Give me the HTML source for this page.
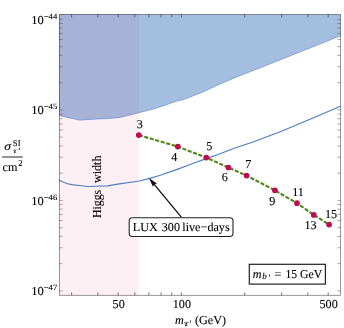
<!DOCTYPE html><html><head><meta charset="utf-8"><style>html,body{margin:0;padding:0;background:#fff;overflow:hidden}svg{display:block;will-change:transform}text{font-family:"Liberation Serif",serif;fill:#000}</style></head><body>
<svg width="344" height="328" viewBox="0 0 344 328">
<rect width="344" height="328" fill="#fff"/>
<rect x="59.4" y="14.4" width="79.6" height="280.9" fill="#FCF0F5"/>
<path d="M59.0,14.4 L59.0,115.4 L79.5,120.1 L96.0,119.0 L107.6,118.6 L119.3,117.5 L127.4,115.5 L136.0,113.4 L138.8,112.7 L153.4,109.0 L165.0,105.3 L176.0,101.2 L183.3,99.6 L201.9,92.4 L220.5,83.8 L240.0,75.6 L250.0,71.8 L292.8,54.8 L340.5,35.7 L340.5,14.4 Z" fill="#A4BEDF"/>
<path d="M59.0,14.4 L59.0,115.4 L79.5,120.1 L96.0,119.0 L107.6,118.6 L119.3,117.5 L127.4,115.5 L136.0,113.4 L138.8,112.7 L139.0,112.6 L139.0,14.4 Z" fill="#A6B3D7"/>
<path d="M59.0,115.4 L79.5,120.1 L96.0,119.0 L107.6,118.6 L119.3,117.5 L127.4,115.5 L136.0,113.4 L138.8,112.7 L153.4,109.0 L165.0,105.3 L176.0,101.2 L183.3,99.6 L201.9,92.4 L220.5,83.8 L240.0,75.6 L250.0,71.8 L292.8,54.8 L340.5,35.7" fill="none" stroke="#7296CE" stroke-width="0.8"/>
<path d="M58.9,180.0 L63.0,182.0 L67.6,183.7 L72.0,184.6 L79.3,185.5 L87.4,186.5 L96.0,186.2 L107.6,185.9 L119.3,183.9 L136.0,181.5 L139.3,181.0 L149.8,178.4 L160.2,175.3 L176.5,169.6 L192.8,163.5 L206.2,158.6 L217.4,154.8 L234.9,148.0 L252.3,142.2 L282.1,131.0 L310.0,119.3 L340.5,106.2" fill="none" stroke="#4C7DC6" stroke-width="1.15" stroke-linejoin="round"/>
<path d="M59.4,19.40h3.3 M340.5,19.40h-3.3 M59.4,109.90h3.3 M340.5,109.90h-3.3 M59.4,82.66h3.3 M340.5,82.66h-3.3 M59.4,66.72h3.3 M340.5,66.72h-3.3 M59.4,55.41h3.3 M340.5,55.41h-3.3 M59.4,46.64h3.3 M340.5,46.64h-3.3 M59.4,39.48h3.3 M340.5,39.48h-3.3 M59.4,33.42h3.3 M340.5,33.42h-3.3 M59.4,28.17h3.3 M340.5,28.17h-3.3 M59.4,23.54h3.3 M340.5,23.54h-3.3 M59.4,200.40h3.3 M340.5,200.40h-3.3 M59.4,173.16h3.3 M340.5,173.16h-3.3 M59.4,157.22h3.3 M340.5,157.22h-3.3 M59.4,145.91h3.3 M340.5,145.91h-3.3 M59.4,137.14h3.3 M340.5,137.14h-3.3 M59.4,129.98h3.3 M340.5,129.98h-3.3 M59.4,123.92h3.3 M340.5,123.92h-3.3 M59.4,118.67h3.3 M340.5,118.67h-3.3 M59.4,114.04h3.3 M340.5,114.04h-3.3 M59.4,290.90h3.3 M340.5,290.90h-3.3 M59.4,263.66h3.3 M340.5,263.66h-3.3 M59.4,247.72h3.3 M340.5,247.72h-3.3 M59.4,236.41h3.3 M340.5,236.41h-3.3 M59.4,227.64h3.3 M340.5,227.64h-3.3 M59.4,220.48h3.3 M340.5,220.48h-3.3 M59.4,214.42h3.3 M340.5,214.42h-3.3 M59.4,209.17h3.3 M340.5,209.17h-3.3 M59.4,204.54h3.3 M340.5,204.54h-3.3" stroke="#444" stroke-width="0.65" fill="none" opacity="0.68"/>
<path d="M71.61,295.3v-3.0 M71.61,14.4v3.0 M97.85,295.3v-3.0 M97.85,14.4v3.0 M118.20,295.3v-3.0 M118.20,14.4v3.0 M134.83,295.3v-3.0 M134.83,14.4v3.0 M148.89,295.3v-3.0 M148.89,14.4v3.0 M161.07,295.3v-3.0 M161.07,14.4v3.0 M171.81,295.3v-3.0 M171.81,14.4v3.0 M181.42,295.3v-3.0 M181.42,14.4v3.0 M244.63,295.3v-3.0 M244.63,14.4v3.0 M281.61,295.3v-3.0 M281.61,14.4v3.0 M307.85,295.3v-3.0 M307.85,14.4v3.0 M328.20,295.3v-3.0 M328.20,14.4v3.0" stroke="#222" stroke-width="0.65" fill="none" opacity="0.9"/>
<rect x="59.4" y="14.4" width="281.1" height="280.9" fill="none" stroke="#000" stroke-opacity="0.5" stroke-width="0.8"/>
<path d="M138.8,135.1 L177.8,146.6 L206.3,157.6 L228.4,167.5 L246.6,175.6 L274.9,190.3 L297.0,203.2 L313.8,214.9 L329.1,224.6" fill="none" stroke="#52861A" stroke-width="2.1" stroke-dasharray="4.1 1.6"/>
<circle cx="138.8" cy="135.1" r="2.85" fill="#BE0B52"/>
<circle cx="177.8" cy="146.6" r="2.85" fill="#BE0B52"/>
<circle cx="206.3" cy="157.6" r="2.85" fill="#BE0B52"/>
<circle cx="228.4" cy="167.5" r="2.85" fill="#BE0B52"/>
<circle cx="246.6" cy="175.6" r="2.85" fill="#BE0B52"/>
<circle cx="274.9" cy="190.3" r="2.85" fill="#BE0B52"/>
<circle cx="297.0" cy="203.2" r="2.85" fill="#BE0B52"/>
<circle cx="313.8" cy="214.9" r="2.85" fill="#BE0B52"/>
<circle cx="329.1" cy="224.6" r="2.85" fill="#BE0B52"/>
<path d="M190.55,320.3L190.4,322.7" stroke="#333" stroke-width="0.9"/>
<path d="M19.5,147.7L19.35,150.1" stroke="#333" stroke-width="0.9"/>
<path d="M2.1,157.0H22.8" stroke="#555" stroke-width="1.3"/>
<path d="M181.3,217.2L154.0,184.1" stroke="#111" stroke-width="1.3" fill="none"/>
<path d="M149.0,178.1L156.9,183.5L154.3,184.4L152.9,186.85Z" fill="#111"/>
<rect x="129.2" y="217.7" width="103.8" height="18.85" rx="3.2" ry="3.2" fill="#fff" stroke="#222" stroke-width="1.1"/>
<rect x="249.3" y="264.3" width="76.1" height="19.8" fill="#fff" stroke="#222" stroke-width="1.2"/>
<path d="M269.5,274.3L269.35,276.7" stroke="#333" stroke-width="0.9"/>
<g stroke="#000" stroke-width="0.1">
<text transform="translate(139.70,127.90) matrix(1,0,0.002,1.0,0,0)" font-size="12.2" text-anchor="middle">3</text>
<text transform="translate(174.30,161.40) matrix(1,0,0.002,1.0,0,0)" font-size="12.2" text-anchor="middle">4</text>
<text transform="translate(209.40,150.20) matrix(1,0,0.002,1.0,0,0)" font-size="12.2" text-anchor="middle">5</text>
<text transform="translate(224.80,181.20) matrix(1,0,0.002,1.0,0,0)" font-size="12.2" text-anchor="middle">6</text>
<text transform="translate(248.40,168.10) matrix(1,0,0.002,1.0,0,0)" font-size="12.2" text-anchor="middle">7</text>
<text transform="translate(272.40,205.00) matrix(1,0,0.002,1.0,0,0)" font-size="12.2" text-anchor="middle">9</text>
<text transform="translate(298.00,196.00) matrix(1,0,0.002,1.0,0,0)" font-size="12.2" text-anchor="middle">11</text>
<text transform="translate(310.50,228.60) matrix(1,0,0.002,1.0,0,0)" font-size="12.2" text-anchor="middle">13</text>
<text transform="translate(331.10,217.50) matrix(1,0,0.002,1.0,0,0)" font-size="12.2" text-anchor="middle">15</text>
<text transform="translate(43.90,23.70) matrix(1.03,0,0.002,1.0,0,0)" font-size="12.2" text-anchor="end">10</text>
<text transform="translate(43.70,18.60) matrix(1,0,0.002,0.93,0,0)" font-size="8.7">−44</text>
<text transform="translate(43.90,114.20) matrix(1.03,0,0.002,1.0,0,0)" font-size="12.2" text-anchor="end">10</text>
<text transform="translate(43.70,109.10) matrix(1,0,0.002,0.93,0,0)" font-size="8.7">−45</text>
<text transform="translate(43.90,204.70) matrix(1.03,0,0.002,1.0,0,0)" font-size="12.2" text-anchor="end">10</text>
<text transform="translate(43.70,199.60) matrix(1,0,0.002,0.93,0,0)" font-size="8.7">−46</text>
<text transform="translate(43.90,295.20) matrix(1.03,0,0.002,1.0,0,0)" font-size="12.2" text-anchor="end">10</text>
<text transform="translate(43.70,290.10) matrix(1,0,0.002,0.93,0,0)" font-size="8.7">−47</text>
<text transform="translate(118.65,307.80) matrix(1,0,0.002,1.0,0,0)" font-size="12.2" text-anchor="middle">50</text>
<text transform="translate(181.87,307.80) matrix(1,0,0.002,1.0,0,0)" font-size="12.2" text-anchor="middle">100</text>
<text transform="translate(328.65,307.80) matrix(1,0,0.002,1.0,0,0)" font-size="12.2" text-anchor="middle">500</text>
<text transform="translate(174.90,324.10) matrix(1,0,0.002,1,0,0)" font-size="12.2" font-style="italic">m</text>
<text transform="translate(183.80,326.10) matrix(1.8,0,0.002,1,0,0)" font-size="7.6" font-style="italic">τ</text>
<text transform="translate(194.90,324.00) matrix(1,0,0.002,1,0,0)" font-size="12.2">(GeV)</text>
<text transform="translate(4.30,150.10) matrix(1.15,0,0.002,1,0,0)" font-size="11.8" font-style="italic">σ</text>
<text transform="translate(12.80,145.70) matrix(1,0,0.002,1,0,0)" font-size="8.7">SI</text>
<text transform="translate(13.10,152.80) matrix(1.5,0,0.002,1,0,0)" font-size="7.2" font-style="italic">τ</text>
<text transform="translate(2.60,171.00) matrix(1,0,0.002,1,0,0)" font-size="12.2">cm</text>
<text transform="translate(18.20,166.40) matrix(1,0,0.002,1,0,0)" font-size="8.7">2</text>
<text transform="translate(100.8,217.9) rotate(-90)" font-size="12.2" textLength="28.0" lengthAdjust="spacingAndGlyphs">Higgs</text>
<text transform="translate(100.8,183.0) rotate(-90)" font-size="12.2" textLength="27.4" lengthAdjust="spacingAndGlyphs">width</text>
<text transform="translate(132.70,230.80) matrix(1,0,0.002,1,0,0)" font-size="12.2">LUX</text>
<text transform="translate(161.70,230.80) matrix(1,0,0.002,1,0,0)" font-size="12.2">300</text>
<text transform="translate(182.30,230.80) matrix(1,0,0.002,1,0,0)" font-size="12.2" textLength="47.4" lengthAdjust="spacing">live−days</text>
<text transform="translate(252.70,278.20) matrix(1,0,0.002,1,0,0)" font-size="12.2" font-style="italic">m</text>
<text transform="translate(262.30,279.20) matrix(1,0,0.002,1,0,0)" font-size="9.0" font-style="italic">b</text>
<text transform="translate(274.50,278.20) matrix(1,0,0.002,1,0,0)" font-size="12.2">=</text>
<text transform="translate(285.40,278.20) matrix(0.96,0,0.002,1,0,0)" font-size="12.2">15</text>
<text transform="translate(299.90,278.20) matrix(0.97,0,0.002,1,0,0)" font-size="12.2">GeV</text>
</g>
</svg></body></html>
